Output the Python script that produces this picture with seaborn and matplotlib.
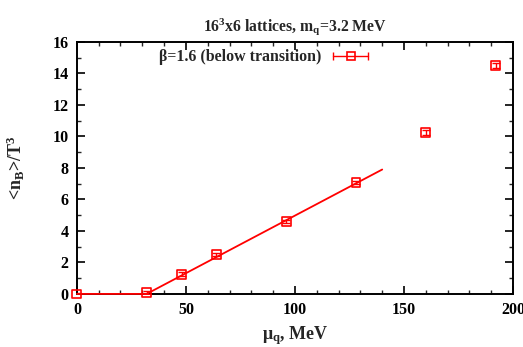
import matplotlib
matplotlib.use("Agg")
import matplotlib.pyplot as plt
import seaborn as sns
import pandas as pd
from matplotlib.lines import Line2D
from matplotlib.legend_handler import HandlerLine2D, HandlerTuple
from matplotlib.ticker import MultipleLocator

# data
mu_q = [0, 32, 48, 64, 96, 128, 160, 192]
n_B = [0.0, 0.1, 1.25, 2.5, 4.62, 7.08, 10.27, 14.5]
n_B_err = [0.05, 0.1, 0.12, 0.12, 0.1, 0.12, 0.15, 0.15]
fit_mu = [0, 32, 140]
fit_n = [0.0, 0.0, 7.9]

sns.set_theme(style="ticks")
plt.rcParams['font.family'] = ['Liberation Serif', 'DejaVu Serif']
plt.rcParams['font.weight'] = 'bold'
plt.rcParams['mathtext.fontset'] = 'custom'
plt.rcParams['mathtext.rm'] = 'Liberation Serif:bold'
plt.rcParams['mathtext.it'] = 'Liberation Serif:bold'
plt.rcParams['mathtext.default'] = 'regular'

df = pd.DataFrame({"mu": mu_q, "n": n_B, "err": n_B_err})
fit = pd.DataFrame({"mu": fit_mu, "n": fit_n})

fig = plt.figure(figsize=(5.23, 3.47), dpi=100)
ax = fig.add_axes([0.147, 0.153, 0.834, 0.726])

red = "#ff0000"
sns.lineplot(data=fit, x="mu", y="n", ax=ax, color=red, lw=1.3, legend=False,
             zorder=4, clip_on=False)
ax.errorbar(df["mu"], df["n"], yerr=df["err"], fmt="none", ecolor=red,
            elinewidth=1, capsize=3, capthick=1, zorder=4)
sns.scatterplot(data=df, x="mu", y="n", ax=ax, marker="s", s=40,
                facecolor="none", edgecolor=red, linewidth=1.2, legend=False,
                zorder=5, clip_on=False)

ax.set_xlim(0, 200)
ax.set_ylim(0, 16)
ax.xaxis.set_major_locator(MultipleLocator(50))
ax.xaxis.set_minor_locator(MultipleLocator(10))
ax.yaxis.set_major_locator(MultipleLocator(2))
ax.yaxis.set_minor_locator(MultipleLocator(1))
ax.tick_params(which="major", direction="in", length=6, width=1.2,
               top=True, right=True, labelsize=11.5, pad=6, colors="black")
ax.tick_params(which="minor", direction="in", length=3, width=1,
               top=True, right=True)
for lab in ax.get_xticklabels() + ax.get_yticklabels():
    lab.set_fontweight("bold")
for s in ax.spines.values():
    s.set_linewidth(1.4)
    s.set_color("black")
    s.set_visible(True)

ax.set_xlabel(r"μ$_{q}$, MeV", fontsize=13, fontweight="bold", labelpad=4)
ax.set_ylabel(r"<n$_{B}$>/T$^{3}$", fontsize=13, fontweight="bold", labelpad=18)
ax.set_title(r"16$^{3}$x6 lattices, m$_{q}$=3.2 MeV", fontsize=11.3,
             fontweight="bold", pad=8)

cap_line = Line2D([], [], color=red, lw=1, marker="|", markersize=6)
sq = Line2D([], [], color=red, lw=0, marker="s", markersize=6,
            markerfacecolor="none", markeredgewidth=1.2)
leg = ax.legend([(cap_line, sq)], ["β=1.6 (below transition)"],
                handler_map={cap_line: HandlerLine2D(numpoints=2),
                             sq: HandlerLine2D(numpoints=1),
                             tuple: HandlerTuple(ndivide=1)},
                loc="center right", bbox_to_anchor=(0.693, 0.94), frameon=False,
                markerfirst=False, fontsize=11.4, handlelength=2.8,
                handletextpad=0.45, borderaxespad=0.0)
for t in leg.get_texts():
    t.set_fontweight("bold")

fig.savefig("out.png", dpi=100)
